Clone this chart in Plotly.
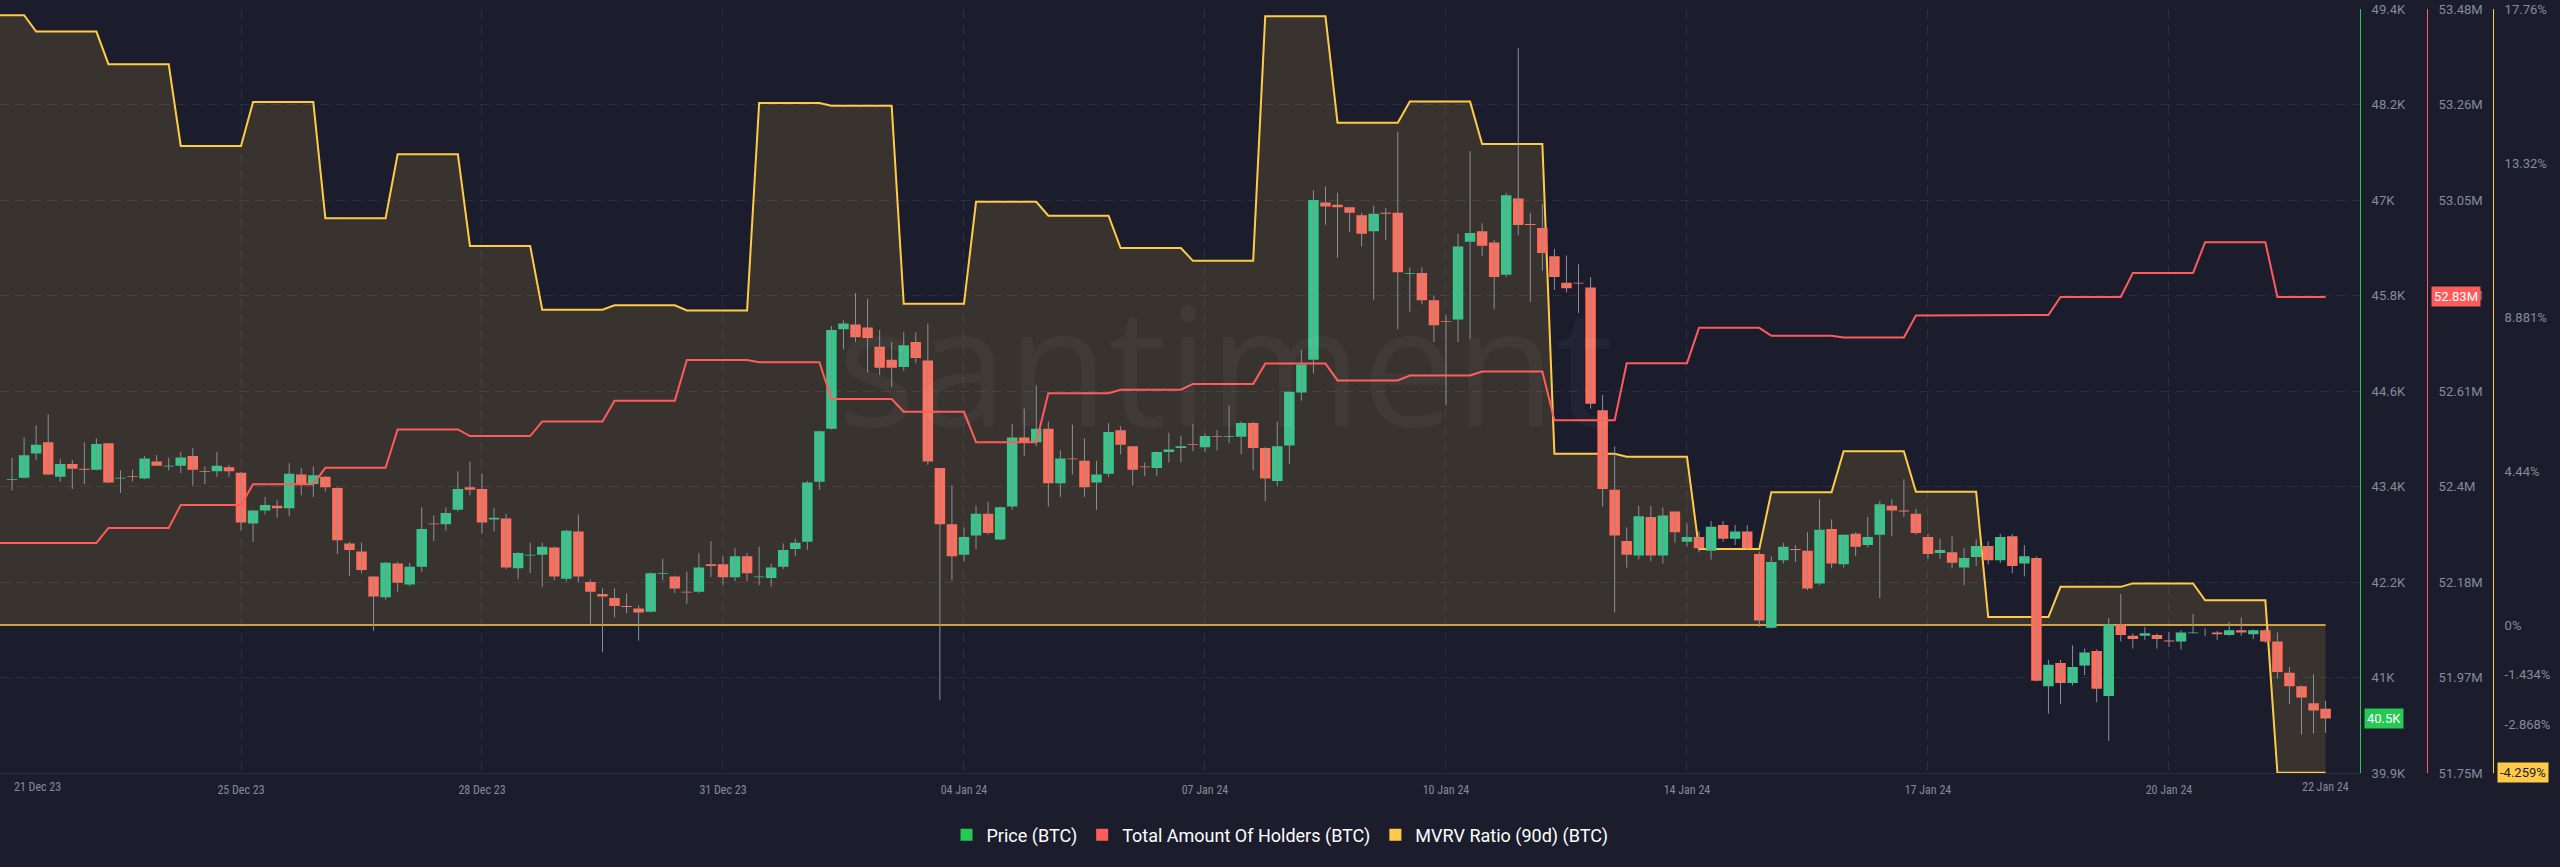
import pandas as pd
import plotly.graph_objects as go

# ---------------- data ----------------
CANDLE_START = "2023-12-21 16:00"   # first 4h candle
CANDLE_STEP = "4h"

# 4h BTC candles, values in thousands of USD
OPEN = [43.51, 43.54, 43.84, 43.98, 43.55, 43.71, 43.65, 43.64, 43.97, 43.53,
        43.56, 43.53, 43.74, 43.68, 43.69, 43.81, 43.62, 43.62, 43.67, 43.60,
        42.97, 43.13, 43.19, 43.16, 43.58, 43.46, 43.55, 43.41, 42.72, 42.62,
        42.31, 42.05, 42.47, 42.21, 42.43, 42.97, 42.96, 43.14, 43.42, 43.40,
        43.02, 43.03, 42.41, 42.57, 42.58, 42.67, 42.28, 42.87, 42.24, 42.09,
        42.04, 41.94, 41.91, 41.87, 42.34, 42.31, 42.12, 42.12, 42.46, 42.46,
        42.30, 42.56, 42.30, 42.29, 42.43, 42.65, 42.74, 43.49, 44.15, 45.39,
        45.45, 45.41, 45.17, 45.01, 44.92, 45.23, 45.00, 43.66, 42.96, 42.58,
        42.82, 43.09, 42.77, 43.18, 44.04, 43.98, 44.15, 43.47, 43.78, 43.75,
        43.48, 43.59, 44.13, 43.93, 43.68, 43.66, 43.86, 43.91, 43.96, 43.92,
        44.06, 44.05, 44.05, 44.22, 43.91, 43.50, 43.94, 44.60, 45.01, 46.97,
        46.94, 46.91, 46.81, 46.61, 46.84, 46.84, 46.08, 46.09, 45.75, 45.49,
        45.51, 46.48, 46.61, 46.47, 46.07, 47.02, 46.70, 46.65, 46.30, 45.97,
        45.97, 45.91, 44.38, 43.39, 42.75, 42.57, 43.05, 42.57, 43.12, 42.74,
        42.80, 42.63, 42.95, 42.78, 42.87, 42.59, 41.67, 42.51, 42.65, 42.63,
        42.22, 42.90, 42.46, 42.84, 42.70, 42.83, 43.19, 43.13, 43.09, 42.80,
        42.60, 42.61, 42.42, 42.55, 42.69, 42.51, 42.81, 42.47, 42.54, 40.94,
        41.23, 40.98, 41.20, 41.38, 40.82, 41.71, 41.57, 41.57, 41.58, 41.51,
        41.50, 41.60, 41.62, 41.61, 41.58, 41.64, 41.59, 41.64, 41.50, 41.11,
        40.94, 40.73, 40.66]
HIGH = [43.79, 44.04, 44.19, 44.33, 43.77, 43.76, 43.98, 44.03, 43.97, 43.63,
        43.64, 43.81, 43.82, 43.79, 43.86, 43.91, 43.68, 43.86, 43.70, 43.61,
        43.14, 43.30, 43.26, 43.72, 43.66, 43.68, 43.56, 43.42, 42.74, 42.73,
        42.31, 42.49, 42.49, 42.48, 43.17, 43.07, 43.17, 43.62, 43.74, 43.59,
        43.16, 43.09, 42.61, 42.73, 42.73, 42.68, 42.89, 43.08, 42.27, 42.16,
        42.16, 42.10, 41.95, 42.36, 42.53, 42.32, 42.37, 42.60, 42.75, 42.56,
        42.66, 42.60, 42.68, 42.47, 42.72, 42.78, 43.50, 44.13, 45.43, 45.50,
        45.84, 45.77, 45.38, 45.23, 45.35, 45.35, 45.46, 43.66, 43.44, 42.92,
        43.19, 43.24, 43.18, 44.21, 44.40, 44.69, 44.24, 43.88, 44.20, 44.03,
        43.75, 44.22, 44.18, 43.93, 43.73, 43.87, 44.10, 44.06, 44.21, 44.09,
        44.13, 44.44, 44.24, 44.24, 43.92, 44.24, 44.61, 45.13, 47.12, 47.17,
        47.09, 46.91, 46.84, 46.93, 46.90, 47.85, 46.16, 46.16, 45.81, 45.57,
        46.58, 47.61, 46.71, 46.50, 47.09, 48.89, 46.84, 46.95, 46.39, 46.31,
        46.20, 46.04, 44.57, 43.93, 42.92, 43.19, 43.19, 43.17, 43.12, 42.97,
        42.87, 43.00, 43.00, 42.95, 42.95, 42.62, 42.56, 42.73, 42.70, 42.86,
        43.27, 43.02, 42.83, 42.86, 43.05, 43.25, 43.27, 43.52, 43.15, 42.84,
        42.78, 42.81, 42.66, 42.77, 42.75, 42.84, 42.84, 42.70, 42.56, 41.27,
        41.27, 41.45, 41.41, 41.40, 41.79, 42.09, 41.60, 41.68, 41.60, 41.62,
        41.64, 41.84, 41.66, 41.63, 41.74, 41.80, 41.65, 41.65, 41.61, 41.18,
        40.95, 41.09, 40.76]
LOW = [43.38, 43.53, 43.76, 43.57, 43.49, 43.40, 43.46, 43.63, 43.47, 43.35,
       43.49, 43.52, 43.69, 43.63, 43.60, 43.44, 43.46, 43.55, 43.55, 42.88,
       42.74, 43.08, 43.04, 43.06, 43.32, 43.30, 43.37, 42.59, 42.32, 42.35,
       41.63, 42.02, 42.12, 42.19, 42.37, 42.75, 42.88, 43.12, 43.32, 42.84,
       42.87, 42.40, 42.28, 42.35, 42.18, 42.26, 42.25, 42.24, 41.72, 41.37,
       41.80, 41.85, 41.51, 41.86, 42.26, 42.10, 41.97, 42.10, 42.30, 42.20,
       42.25, 42.25, 42.20, 42.18, 42.40, 42.56, 42.64, 43.39, 44.14, 45.14,
       45.23, 44.85, 44.82, 44.67, 44.87, 44.97, 43.70, 40.77, 42.26, 42.50,
       42.65, 42.83, 42.76, 43.14, 43.81, 43.93, 43.18, 43.30, 43.58, 43.30,
       43.14, 43.55, 43.83, 43.44, 43.56, 43.56, 43.73, 43.73, 43.87, 43.86,
       43.88, 43.97, 43.83, 43.63, 43.25, 43.43, 43.71, 44.50, 44.84, 46.69,
       46.28, 46.60, 46.42, 45.76, 46.50, 45.39, 45.61, 45.70, 45.23, 44.44,
       45.23, 45.27, 46.30, 45.64, 46.04, 46.56, 45.73, 46.12, 45.88, 45.85,
       45.59, 44.40, 43.18, 41.86, 42.42, 42.52, 42.50, 42.47, 42.73, 42.68,
       42.61, 42.52, 42.74, 42.70, 42.64, 41.68, 41.66, 42.47, 42.49, 42.14,
       42.20, 42.41, 42.42, 42.56, 42.67, 42.04, 42.81, 43.05, 42.83, 42.53,
       42.53, 42.41, 42.20, 42.44, 42.46, 42.48, 42.35, 42.31, 41.00, 40.60,
       40.72, 40.95, 41.08, 40.74, 40.26, 41.50, 41.41, 41.52, 41.41, 41.43,
       41.40, 41.60, 41.57, 41.52, 41.57, 41.57, 41.53, 41.48, 41.04, 40.72,
       40.34, 40.35, 40.36]
CLOSE = [43.52, 43.82, 43.95, 43.58, 43.71, 43.65, 43.64, 43.96, 43.48, 43.54,
         43.55, 43.78, 43.69, 43.69, 43.79, 43.64, 43.61, 43.69, 43.62, 42.98,
         43.13, 43.20, 43.16, 43.59, 43.46, 43.57, 43.42, 42.76, 42.64, 42.39,
         42.06, 42.48, 42.23, 42.43, 42.90, 42.96, 43.10, 43.40, 43.39, 42.98,
         43.04, 42.42, 42.60, 42.58, 42.68, 42.31, 42.88, 42.31, 42.12, 42.06,
         41.94, 41.93, 41.86, 42.35, 42.35, 42.16, 42.11, 42.42, 42.44, 42.30,
         42.56, 42.35, 42.31, 42.42, 42.64, 42.73, 43.48, 44.12, 45.38, 45.46,
         45.29, 45.28, 44.91, 44.91, 45.19, 45.03, 43.74, 42.96, 42.56, 42.80,
         43.09, 42.85, 43.17, 44.04, 43.98, 44.15, 43.47, 43.78, 43.77, 43.42,
         43.58, 44.11, 43.95, 43.64, 43.67, 43.86, 43.89, 43.93, 43.95, 44.06,
         44.05, 44.06, 44.22, 43.91, 43.53, 43.93, 44.61, 44.95, 47.00, 46.92,
         46.91, 46.84, 46.58, 46.83, 46.83, 46.10, 46.09, 45.75, 45.44, 45.48,
         46.42, 46.59, 46.43, 46.04, 47.06, 46.69, 46.69, 46.34, 46.04, 45.90,
         45.96, 44.46, 43.40, 42.82, 42.58, 43.06, 42.57, 43.07, 42.86, 42.80,
         42.66, 42.93, 42.78, 42.87, 42.66, 41.76, 42.49, 42.68, 42.64, 42.16,
         42.89, 42.47, 42.83, 42.68, 42.80, 43.21, 43.13, 43.12, 42.85, 42.59,
         42.64, 42.48, 42.54, 42.69, 42.51, 42.80, 42.44, 42.56, 41.01, 41.21,
         40.98, 41.18, 41.36, 40.91, 41.71, 41.58, 41.53, 41.60, 41.53, 41.50,
         41.61, 41.61, 41.62, 41.59, 41.64, 41.61, 41.64, 41.50, 41.12, 40.94,
         40.80, 40.64, 40.54]

# daily on-chain metrics, 21 Dec 2023 .. 22 Jan 2024
FIRST_DAY = "2023-12-21"
LINE_FIRST = "2023-12-21 12:00"
LINE_LAST = "2024-01-22 16:00"
MVRV_DAILY = [17.58, 17.11, 16.17, 13.81, 15.08, 11.73, 13.57, 10.93, 9.09, 9.22,
              9.07, 15.05, 14.97, 9.26, 12.20, 11.80, 10.87, 10.50, 17.55, 14.48,
              15.09, 13.87, 4.94, 4.85, 2.19, 3.83, 5.01, 3.84, 0.23, 1.10,
              1.20, 0.71, -4.259]
HOLDERS_DAILY_M = [52.271, 52.271, 52.305, 52.357, 52.404, 52.441, 52.528, 52.513, 52.546, 52.593,
                   52.685, 52.680, 52.597, 52.568, 52.499, 52.610, 52.618, 52.631, 52.677, 52.639,
                   52.650, 52.659, 52.549, 52.678, 52.758, 52.740, 52.736, 52.786, 52.787, 52.828,
                   52.882, 52.952, 52.828]

# axes
PRICE_TICKS_K = [39.86, 41.05, 42.24, 43.43, 44.62, 45.81, 47.00, 48.19, 49.38]
PRICE_LABELS = ["39.9K", "41K", "42.2K", "43.4K", "44.6K", "45.8K", "47K", "48.2K", "49.4K"]
HOLDER_TICKS_M = [51.75, 51.96625, 52.1825, 52.39875, 52.615, 52.83125, 53.0475, 53.26375, 53.48]
HOLDER_LABELS = ["51.75M", "51.97M", "52.18M", "52.4M", "52.61M", "52.83M", "53.05M", "53.26M", "53.48M"]
MVRV_TICKS = [17.76, 13.32, 8.881, 4.44, 0, -1.434, -2.868]
MVRV_LABELS = ["17.76%", "13.32%", "8.881%", "4.44%", "0%", "-1.434%", "-2.868%"]
X_TICK_TIMES = ["2023-12-24 20:00", "2023-12-28 04:00", "2023-12-31 12:00", "2024-01-03 20:00",
                "2024-01-07 04:00", "2024-01-10 12:00", "2024-01-13 20:00", "2024-01-17 04:00",
                "2024-01-20 12:00"]
X_TICK_LABELS = ["25 Dec 23", "28 Dec 23", "31 Dec 23", "04 Jan 24", "07 Jan 24", "10 Jan 24",
                 "14 Jan 24", "17 Jan 24", "20 Jan 24"]
X_EDGE_TIMES = ["2023-12-22 00:30", "2024-01-22 16:00"]
X_EDGE_LABELS = ["21 Dec 23", "22 Jan 24"]
X_RANGE = ["2023-12-21 12:00", "2024-01-23 03:25"]
PRICE_RANGE_K = [39.86, 49.38]
HOLDER_RANGE_M = [51.75, 53.48]
MVRV_RANGE = [-4.267, 17.76]

SERIES_NAMES = ["Price (BTC)", "Total Amount Of Holders (BTC)", "MVRV Ratio (90d) (BTC)"]

# ---------------- styling ----------------
W, H = 2560, 867
PLOT_RIGHT = 2360
BG = "#1b1d2c"
GRID = "#2b2e40"
TICK = "#858a9d"
GREEN_AX = "#26c953"
RED = "#ff5b5b"
YELLOW = "#ffcb47"
CANDLE_UP = "#35c78a"
CANDLE_DN = "#ff6e5a"
WICK = "#8b8e9c"

# ---------------- build series ----------------
candle_times = pd.date_range(CANDLE_START, periods=len(OPEN), freq=CANDLE_STEP)
o = [v * 1000 for v in OPEN]
h = [v * 1000 for v in HIGH]
l = [v * 1000 for v in LOW]
c = [v * 1000 for v in CLOSE]

t_first = pd.Timestamp(LINE_FIRST)
t_last = pd.Timestamp(LINE_LAST)


def daily_steps(values):
    xs, ys = [], []
    for d, v in enumerate(values):
        start = pd.Timestamp(FIRST_DAY) + pd.Timedelta(days=d)
        a = max(start, t_first)
        b = min(start + pd.Timedelta(hours=20), t_last)
        xs += [a, b]
        ys += [v, v]
    return xs, ys


mx, my = daily_steps(MVRV_DAILY)
hx, hy = daily_steps([v * 1e6 for v in HOLDERS_DAILY_M])

wx, wy = [], []
for t, lo, hi in zip(candle_times, l, h):
    wx += [t, t, None]
    wy += [lo, hi, None]

fig = go.Figure()

# MVRV area (base axis y)
fig.add_trace(go.Scatter(x=mx, y=my, mode="lines", fill="tozeroy",
                         fillcolor="rgba(255,203,71,0.13)",
                         line=dict(color=YELLOW, width=2), yaxis="y",
                         showlegend=False, hoverinfo="skip"))
fig.add_trace(go.Scatter(x=[mx[0], mx[-1]], y=[0, 0], mode="lines",
                         line=dict(color=YELLOW, width=1.5), yaxis="y",
                         showlegend=False, hoverinfo="skip"))

# candles (price axis y2)
fig.add_trace(go.Scatter(x=wx, y=wy, mode="lines", line=dict(color=WICK, width=1),
                         yaxis="y2", showlegend=False, hoverinfo="skip"))
fig.add_trace(go.Candlestick(x=candle_times, open=o, high=h, low=l, close=c, yaxis="y2",
                             increasing=dict(fillcolor=CANDLE_UP, line=dict(color=CANDLE_UP, width=0)),
                             decreasing=dict(fillcolor=CANDLE_DN, line=dict(color=CANDLE_DN, width=0)),
                             whiskerwidth=0, showlegend=False))

# holders (y3)
fig.add_trace(go.Scatter(x=hx, y=hy, mode="lines", line=dict(color=RED, width=2),
                         yaxis="y3", showlegend=False, hoverinfo="skip"))

# legend entries
for name, col in zip(SERIES_NAMES, [GREEN_AX, RED, YELLOW]):
    fig.add_trace(go.Scatter(x=[None], y=[None], mode="markers", name=name,
                             marker=dict(symbol="square", size=12, color=col)))

axis_font = dict(family="Roboto, Arial", size=13, color=TICK)

fig.update_layout(
    width=W, height=H,
    margin=dict(l=0, r=0, t=9, b=94),
    paper_bgcolor=BG, plot_bgcolor=BG,
    boxgap=0.13, boxgroupgap=0,
    xaxis=dict(type="date", range=X_RANGE, domain=[0, PLOT_RIGHT / W],
               tickvals=X_TICK_TIMES, ticktext=X_TICK_LABELS,
               tickfont=dict(family="Roboto Condensed, Roboto, Arial", size=12, color=TICK),
               showgrid=True, gridcolor=GRID, griddash="10px,6px", gridwidth=1,
               showline=True, linecolor=GRID, zeroline=False, ticks="",
               ticklabelstandoff=6, rangeslider=dict(visible=False), automargin=False,
               fixedrange=True),
    yaxis=dict(range=MVRV_RANGE, side="right", anchor="free", position=2493 / W,
               tickvals=MVRV_TICKS, ticktext=MVRV_LABELS, tickfont=axis_font,
               showgrid=False, zeroline=False, showline=True, linecolor=YELLOW,
               ticks="", ticklabelstandoff=8, automargin=False),
    yaxis2=dict(range=[v * 1000 for v in PRICE_RANGE_K], overlaying="y", side="right",
                anchor="x", tickvals=[v * 1000 for v in PRICE_TICKS_K], ticktext=PRICE_LABELS,
                tickfont=axis_font, showgrid=True, gridcolor=GRID, griddash="10px,6px",
                zeroline=False, showline=True, linecolor=GREEN_AX, ticks="",
                ticklabelstandoff=8, automargin=False),
    yaxis3=dict(range=[v * 1e6 for v in HOLDER_RANGE_M], overlaying="y", side="right",
                anchor="free", position=2427 / W,
                tickvals=[v * 1e6 for v in HOLDER_TICKS_M], ticktext=HOLDER_LABELS,
                tickfont=axis_font, showgrid=False, zeroline=False, showline=True,
                linecolor=RED, ticks="", ticklabelstandoff=8, automargin=False),
    legend=dict(orientation="h", xref="container", yref="container", x=0.5, y=1 - 835 / H,
                xanchor="center", yanchor="middle", font=dict(family="Roboto, Arial", size=18, color="#ffffff"),
                bgcolor="rgba(0,0,0,0)", itemsizing="constant"),
    showlegend=True,
    hovermode=False,
)

annotations = []
# edge date labels
for t, txt in zip(X_EDGE_TIMES, X_EDGE_LABELS):
    annotations.append(dict(x=t, xref="x", y=-(787 - 773) / 764, yref="paper", text=txt,
                            showarrow=False, xanchor="center", yanchor="middle",
                            font=dict(family="Roboto Condensed, Roboto, Arial", size=12, color=TICK)))
# last value boxes
annotations.append(dict(x=2431 / W, xref="paper", y=HOLDERS_DAILY_M[-1] * 1e6, yref="y3",
                        text=f"{HOLDERS_DAILY_M[-1]:.2f}M", showarrow=False, xanchor="left",
                        yanchor="middle", bgcolor=RED, borderpad=2,
                        font=dict(family="Roboto, Arial", size=13, color="#ffffff")))
annotations.append(dict(x=2364 / W, xref="paper", y=CLOSE[-1] * 1000, yref="y2",
                        text=f"{CLOSE[-1]:.1f}K", showarrow=False, xanchor="left",
                        yanchor="middle", bgcolor=GREEN_AX, borderpad=2,
                        font=dict(family="Roboto, Arial", size=13, color="#ffffff")))
annotations.append(dict(x=2497 / W, xref="paper", y=MVRV_DAILY[-1], yref="y",
                        text=f"{MVRV_DAILY[-1]:.3f}%", showarrow=False, xanchor="left",
                        yanchor="middle", bgcolor=YELLOW, borderpad=2,
                        font=dict(family="Roboto, Arial", size=13, color="#1b1d2c")))
# watermark
annotations.append(dict(x=1225 / W, xref="paper", y=(773 - 362) / 764, yref="paper",
                        text="santiment", showarrow=False, xanchor="center", yanchor="middle",
                        font=dict(family="Open Sans", size=165, color="rgba(255,255,255,0.035)")))
fig.update_layout(annotations=annotations)

fig.write_html("out.html", config={"displayModeBar": False, "staticPlot": True},
               post_script="document.body.style.margin='0';document.body.style.background='#1b1d2c';")
